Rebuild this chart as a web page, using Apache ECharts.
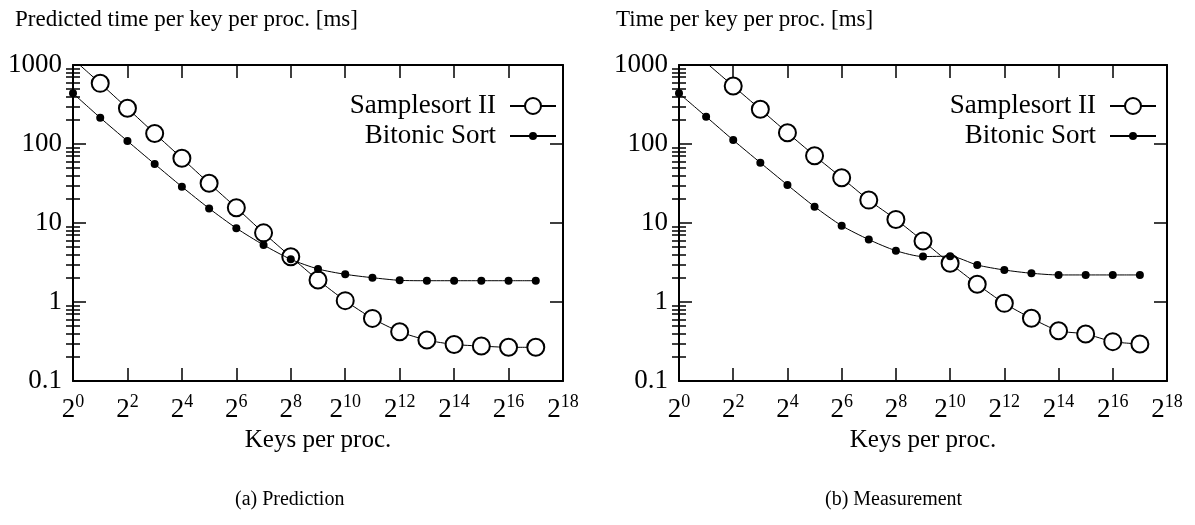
<!DOCTYPE html>
<html><head><meta charset="utf-8">
<script src="https://cdn.jsdelivr.net/npm/echarts@6/dist/echarts.min.js"></script>
<style>html,body{margin:0;padding:0;background:#fff}#c{width:1195px;height:525px}</style>
</head><body><div id="c"></div>
<script>
// ---- data (x = log2 of keys per proc.) ----
const keysExp = [0,1,2,3,4,5,6,7,8,9,10,11,12,13,14,15,16,17];
const xTickExp = [0,2,4,6,8,10,12,14,16,18];
const yTickValues = [0.1,1,10,100,1000];
const seriesNames = ['Samplesort II','Bitonic Sort'];
const panelTitles = ['Predicted time per key per proc. [ms]','Time per key per proc. [ms]'];
const panelCaptions = ['(a) Prediction','(b) Measurement'];
const xAxisTitle = 'Keys per proc.';

const predSamplesort = [1190,586,283,136,66,31.8,15.6,7.5,3.74,1.9,1.04,0.62,0.42,0.33,0.29,0.277,0.267,0.267];
const predBitonic    = [438,215,109,55.8,28.8,15.3,8.6,5.27,3.47,2.62,2.24,2.03,1.88,1.86,1.86,1.86,1.86,1.86];
const measSamplesortExp = [1,2,3,4,5,6,7,8,9,10,11,12,13,14,15,16,17];
const measSamplesort = [1070,542,275,139,71.1,37.4,19.5,11.1,5.92,3.09,1.68,0.962,0.622,0.433,0.394,0.315,0.294];
const measBitonic    = [438,222,112,58,30.3,16.1,9.25,6.17,4.46,3.76,3.8,2.94,2.54,2.31,2.2,2.2,2.2,2.2];

// minor log ticks 2..9 per decade, placed on a helper axis in log10 space
const minorTicksLog = [];
for (const d of [-1,0,1,2]) for (let m=2;m<=9;m++) minorTicksLog.push(d + Math.log10(m));

const FONT = 'Liberation Serif';
const BIG = 27;

const grids = [
  {left:73, top:65, width:490, height:316},
  {left:679, top:65, width:488, height:316}
];

const xAxes = [], yAxes = [];
grids.forEach((g, gi) => {
  const base = {type:'value', gridIndex:gi, min:0, max:18, interval:2, splitLine:{show:false}};
  xAxes.push(Object.assign({}, base, {
    position:'bottom',
    axisLine:{show:true, onZero:false, lineStyle:{color:'#000', width:2}},
    axisTick:{show:true, inside:true, length:13, lineStyle:{color:'#000', width:1.5}},
    axisLabel:{show:true, margin:12, color:'#000',
      formatter: v => '{b|2}{s|' + v + '}',
      rich:{b:{fontFamily:FONT, fontSize:BIG, lineHeight:30, verticalAlign:'bottom', color:'#000'},
            s:{fontFamily:FONT, fontSize:18, lineHeight:18, verticalAlign:'top', color:'#000'}}},
    name: xAxisTitle, nameLocation:'middle', nameGap:47,
    nameTextStyle:{fontFamily:FONT, fontSize:BIG-2, color:'#000'}
  }));
  xAxes.push(Object.assign({}, base, {
    position:'top',
    axisLine:{show:true, onZero:false, lineStyle:{color:'#000', width:2}},
    axisTick:{show:true, inside:true, length:13, lineStyle:{color:'#000', width:1.5}},
    axisLabel:{show:false}
  }));
  const ybase = {type:'log', logBase:10, gridIndex:gi, min:0.1, max:1000, splitLine:{show:false}};
  yAxes.push(Object.assign({}, ybase, {
    position:'left',
    axisLine:{show:true, onZero:false, lineStyle:{color:'#000', width:2}},
    axisTick:{show:true, inside:true, length:13, lineStyle:{color:'#000', width:1.5}},
    axisLabel:{show:true, margin:11, color:'#000', fontFamily:FONT, fontSize:BIG,
      formatter: v => String(v)}
  }));
  yAxes.push(Object.assign({}, ybase, {
    position:'right',
    axisLine:{show:true, onZero:false, lineStyle:{color:'#000', width:2}},
    axisTick:{show:true, inside:true, length:13, lineStyle:{color:'#000', width:1.5}},
    axisLabel:{show:false}
  }));
  const mbase = {type:'value', gridIndex:gi, min:-1, max:3, splitLine:{show:false},
    axisLine:{show:true, lineStyle:{color:'rgba(0,0,0,0)', width:0}},
    axisTick:{show:true, inside:true, length:7, customValues:minorTicksLog, lineStyle:{color:'#000', width:1.5}},
    axisLabel:{show:false}};
  yAxes.push(Object.assign({}, mbase, {position:'left'}));
  yAxes.push(Object.assign({}, mbase, {position:'right'}));
});

function pairs(xs, ys){ return xs.map((x,i)=>[x, ys[i]]); }

const sampleStyle = {type:'line', symbol:'emptyCircle', symbolSize:17, smooth:0.25,
  lineStyle:{color:'#000', width:1}, itemStyle:{color:'#000', borderColor:'#000', borderWidth:1}, z:2};
const bitonicStyle = {type:'line', symbol:'circle', symbolSize:8, smooth:0.25,
  lineStyle:{color:'#000', width:1}, itemStyle:{color:'#000'}, z:3};

const series = [
  Object.assign({}, sampleStyle, {name:seriesNames[0], xAxisIndex:0, yAxisIndex:0, data:pairs(keysExp, predSamplesort)}),
  Object.assign({}, bitonicStyle, {name:seriesNames[1], xAxisIndex:0, yAxisIndex:0, data:pairs(keysExp, predBitonic)}),
  Object.assign({}, sampleStyle, {name:seriesNames[0], xAxisIndex:2, yAxisIndex:4, data:pairs(measSamplesortExp, measSamplesort)}),
  Object.assign({}, bitonicStyle, {name:seriesNames[1], xAxisIndex:2, yAxisIndex:4, data:pairs(keysExp, measBitonic)})
];

function legend(name, right, top, ih){
  return {data:[name], orient:'vertical', right:right, top:top, align:'right', selectedMode:false,
    itemWidth:46, itemHeight:ih, itemGap:0, padding:0,
    textStyle:{fontFamily:FONT, fontSize:BIG, color:'#000', lineHeight:30, padding:[0,9,0,0]}};
}

const option = {
  animation:false,
  backgroundColor:'#fff',
  grid: grids,
  xAxis: xAxes,
  yAxis: yAxes,
  series: series,
  legend: [
    legend(seriesNames[0], 638, 91, 20),
    legend(seriesNames[1], 638, 121, 10),
    legend(seriesNames[0], 38, 91, 20),
    legend(seriesNames[1], 38, 121, 10)
  ],
  title: [
    {text:panelTitles[0], left:15, top:8, padding:0, textStyle:{fontFamily:FONT, fontSize:23, fontWeight:'normal', color:'#000'}},
    {text:panelTitles[1], left:616, top:8, padding:0, textStyle:{fontFamily:FONT, fontSize:23, fontWeight:'normal', color:'#000'}}
  ],
  graphic: [
    {type:'text', left:235, top:490, style:{text:panelCaptions[0], font:'20px "Liberation Serif"', fill:'#000'}},
    {type:'text', left:825, top:490, style:{text:panelCaptions[1], font:'20px "Liberation Serif"', fill:'#000'}}
  ]
};
const chart = echarts.init(document.getElementById('c'), null, {renderer:'canvas'});
chart.setOption(option);
</script></body></html>
